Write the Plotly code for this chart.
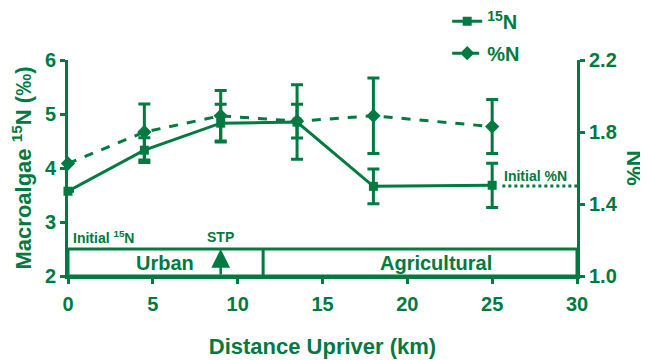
import plotly.graph_objects as go

GREEN = "#007a40"
FONT = "Liberation Sans, Arial, sans-serif"

distance = [0, 4.5, 9, 13.5, 18, 25]
n15 = [3.57, 4.33, 4.83, 4.85, 3.66, 3.68]
n15_err = [0, 0.23, 0.35, 0.69, 0.32, 0.41]
pct_n = [1.625, 1.80, 1.89, 1.86, 1.89, 1.83]
pct_n_err = [0, 0.155, 0.14, 0.094, 0.21, 0.15]

initial_pctn_x = [25.6, 30]
initial_pctn_y = [1.5, 1.5]

region_bottom, region_top = 2.0, 2.5
region_split = 11.5
stp_x = 9
urban_x, agri_x = 5.7, 21.7

fig = go.Figure()

fig.add_trace(go.Scatter(
    x=distance, y=n15, name="<sup>15</sup>N", mode="lines+markers", legendgroup="a",
    line=dict(color=GREEN, width=3),
    marker=dict(symbol="square", size=9, color=GREEN),
    error_y=dict(type="data", array=n15_err, color=GREEN, thickness=3, width=6),
    cliponaxis=False, yaxis="y"))

fig.add_trace(go.Scatter(
    x=distance, y=pct_n, name="%N", mode="lines+markers", legendgroup="b",
    line=dict(color=GREEN, width=3, dash="dash"),
    marker=dict(symbol="diamond", size=11, color=GREEN),
    error_y=dict(type="data", array=pct_n_err, color=GREEN, thickness=3, width=6),
    cliponaxis=False, yaxis="y2"))

fig.add_trace(go.Scatter(
    x=initial_pctn_x, y=initial_pctn_y, mode="lines", showlegend=False,
    line=dict(color=GREEN, width=3, dash="dot"), yaxis="y2", hoverinfo="skip"))

# region box
fig.add_shape(type="rect", xref="x", yref="y", x0=0, x1=30, y0=region_bottom, y1=region_top,
              line=dict(color=GREEN, width=3))
fig.add_shape(type="line", xref="x", yref="y", x0=region_split, x1=region_split,
              y0=region_bottom, y1=region_top, line=dict(color=GREEN, width=3))

bold = dict(family=FONT, color=GREEN, weight="bold")

fig.add_annotation(x=urban_x, y=(region_bottom + region_top) / 2, text="Urban", showarrow=False,
                   font=dict(size=20, **bold), xref="x", yref="y")
fig.add_annotation(x=agri_x, y=(region_bottom + region_top) / 2, text="Agricultural", showarrow=False,
                   font=dict(size=20, **bold), xref="x", yref="y")
fig.add_annotation(x=stp_x, y=region_top, ax=stp_x, ay=region_bottom, xref="x", yref="y",
                   axref="x", ayref="y", showarrow=True, arrowhead=2, arrowsize=1.5,
                   arrowwidth=2.5, arrowcolor=GREEN, text="")
fig.add_annotation(x=stp_x, y=region_top, text="STP", showarrow=False, xref="x", yref="y",
                   yanchor="bottom", yshift=2, font=dict(size=14, **bold))
fig.add_annotation(x=0.2, y=region_top, text="Initial <sup>15</sup>N", showarrow=False,
                   xref="x", yref="y", xanchor="left", yanchor="bottom", yshift=1,
                   font=dict(size=14, **bold))
fig.add_annotation(x=initial_pctn_x[0], y=initial_pctn_y[0], text="Initial %N", showarrow=False,
                   xref="x", yref="y2", xanchor="left", yanchor="bottom", yshift=0,
                   font=dict(size=14, **bold))

axis_common = dict(showline=True, linecolor=GREEN, linewidth=3, ticks="outside",
                   tickcolor=GREEN, tickwidth=3, ticklen=5, showgrid=False, zeroline=False,
                   tickfont=dict(size=20, **bold))

fig.update_layout(
    width=648, height=360,
    margin=dict(l=60, r=79, t=52, b=92, autoexpand=False),
    paper_bgcolor="white", plot_bgcolor="white",
    font=dict(family=FONT, color=GREEN),
    xaxis=dict(range=[0, 30], tickvals=[0, 5, 10, 15, 20, 25, 30], automargin=False,
               ticklabelstandoff=3,
               title=dict(text="Distance Upriver (km)", font=dict(size=22, **bold), standoff=25),
               **axis_common),
    yaxis=dict(range=[2, 6], tickvals=[2, 3, 4, 5, 6], automargin=False,
               title=dict(text="Macroalgae <sup>15</sup>N (‰)", font=dict(size=22, **bold), standoff=9),
               **axis_common),
    yaxis2=dict(range=[1.0, 2.2], tickvals=[1.0, 1.4, 1.8, 2.2], ticktext=["1.0", "1.4", "1.8", "2.2"],
                overlaying="y", side="right", automargin=False,
                title=dict(text="%N", font=dict(size=22, **bold), standoff=10),
                **axis_common),
    legend=dict(x=0.745, y=1.27, xanchor="left", yanchor="top", bgcolor="rgba(0,0,0,0)",
                font=dict(size=20, **bold), tracegroupgap=3, traceorder="grouped"),
    showlegend=True,
)

fig.write_html("out.html")
